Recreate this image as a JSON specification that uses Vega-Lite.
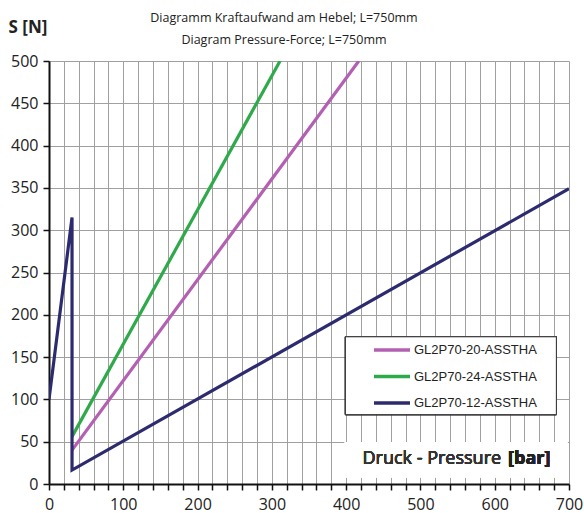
{
  "$schema": "https://vega.github.io/schema/vega-lite/v6.json",
  "width": 520,
  "height": 423,
  "autosize": {"type": "none"},
  "padding": {"left": 49, "top": 61, "right": 15, "bottom": 29},
  "background": "white",
  "config": {
    "view": {"stroke": null},
    "font": "Open Sans",
    "axisX": {
      "tickCount": 35,
      "labelExpr": "datum.value % 100 === 0 ? datum.label : ''",
      "labelOverlap": false,
      "labelFlush": false,
      "grid": true,
      "gridColor": "#a0a0a0",
      "gridWidth": 1,
      "domainColor": "#111111",
      "domainWidth": 2,
      "tickColor": "#111111",
      "tickWidth": 1.5,
      "tickSize": 6,
      "labelFont": "Open Sans",
      "labelFontSize": 16,
      "labelColor": "#222222",
      "labelPadding": 6
    },
    "axisY": {
      "tickCount": 10,
      "grid": true,
      "gridColor": "#a0a0a0",
      "gridWidth": 1,
      "domainColor": "#111111",
      "domainWidth": 2,
      "tickColor": "#111111",
      "tickWidth": 1.5,
      "tickSize": 6,
      "labelFont": "Open Sans",
      "labelFontSize": 16,
      "labelColor": "#222222",
      "labelPadding": 5,
      "titleAngle": 0,
      "titleX": -41,
      "titleY": -34,
      "titleAlign": "left",
      "titleBaseline": "middle",
      "titleFont": "Open Sans",
      "titleFontSize": 17,
      "titleFontWeight": "bold",
      "titleColor": "#222222"
    }
  },
  "title": {
    "text": ["Diagramm Kraftaufwand am Hebel; L=750mm", "Diagram Pressure-Force; L=750mm"],
    "anchor": "middle",
    "frame": "group",
    "font": "Open Sans",
    "fontSize": 12.5,
    "fontWeight": "normal",
    "color": "#222222",
    "lineHeight": 21.5,
    "offset": 14,
    "dy": 42,
    "dx": -25
  },
  "data": {
    "values": [
      {"series": "GL2P70-20-ASSTHA", "i": 1, "p": 31, "s": 40},
      {"series": "GL2P70-20-ASSTHA", "i": 2, "p": 417, "s": 500},
      {"series": "GL2P70-24-ASSTHA", "i": 1, "p": 31, "s": 56},
      {"series": "GL2P70-24-ASSTHA", "i": 2, "p": 311, "s": 500},
      {"series": "GL2P70-12-ASSTHA", "i": 1, "p": 0, "s": 100},
      {"series": "GL2P70-12-ASSTHA", "i": 2, "p": 31, "s": 315},
      {"series": "GL2P70-12-ASSTHA", "i": 3, "p": 31, "s": 16.5},
      {"series": "GL2P70-12-ASSTHA", "i": 4, "p": 700, "s": 349}
    ]
  },
  "layer": [
    {
      "mark": {"type": "line", "strokeWidth": 3.2, "clip": true},
      "encoding": {
        "x": {
          "field": "p",
          "type": "quantitative",
          "scale": {"domain": [0, 700], "nice": false, "zero": false},
          "axis": {"title": null}
        },
        "y": {
          "field": "s",
          "type": "quantitative",
          "scale": {"domain": [0, 500], "nice": false},
          "axis": {"title": "S [N]"}
        },
        "color": {
          "field": "series",
          "type": "nominal",
          "scale": {
            "domain": ["GL2P70-20-ASSTHA", "GL2P70-24-ASSTHA", "GL2P70-12-ASSTHA"],
            "range": ["#B35FB2", "#2EAA4A", "#2D2B70"]
          },
          "legend": {
            "orient": "none",
            "legendX": 323,
            "legendY": 282.5,
            "title": null,
            "symbolType": "stroke",
            "symbolSize": 1296,
            "symbolStrokeWidth": 3.5,
            "symbolOffset": 0,
            "clipHeight": 13,
            "rowPadding": 12.5,
            "labelOffset": 2,
            "labelFont": "Liberation Sans",
            "labelFontSize": 13,
            "labelColor": "#222222",
            "padding": 0
          }
        },
        "order": {"field": "i", "type": "quantitative"}
      }
    },
    {
      "mark": {"type": "rect", "fill": "white", "stroke": "#333333", "strokeWidth": 1},
      "encoding": {
        "x": {"datum": 399, "type": "quantitative"},
        "x2": {"datum": 683},
        "y": {"datum": 82, "type": "quantitative"},
        "y2": {"datum": 174}
      }
    },
    {
      "mark": {"type": "rect", "color": "white"},
      "encoding": {
        "x": {"datum": 398, "type": "quantitative"},
        "x2": {"datum": 698},
        "y": {"datum": 8, "type": "quantitative"},
        "y2": {"datum": 49}
      }
    },
    {
      "mark": {"type": "text", "text": "Druck - Pressure", "align": "left", "baseline": "middle", "font": "Open Sans", "fontSize": 18, "fontWeight": "normal", "color": "#333333"},
      "encoding": {
        "x": {"datum": 422, "type": "quantitative"},
        "y": {"datum": 29.5, "type": "quantitative"}
      }
    },
    {
      "mark": {"type": "text", "text": "[bar]", "align": "right", "baseline": "middle", "font": "Open Sans", "fontSize": 18, "fontWeight": "bold", "color": "#222222"},
      "encoding": {
        "x": {"datum": 675, "type": "quantitative"},
        "y": {"datum": 29.5, "type": "quantitative"}
      }
    }
  ]
}
